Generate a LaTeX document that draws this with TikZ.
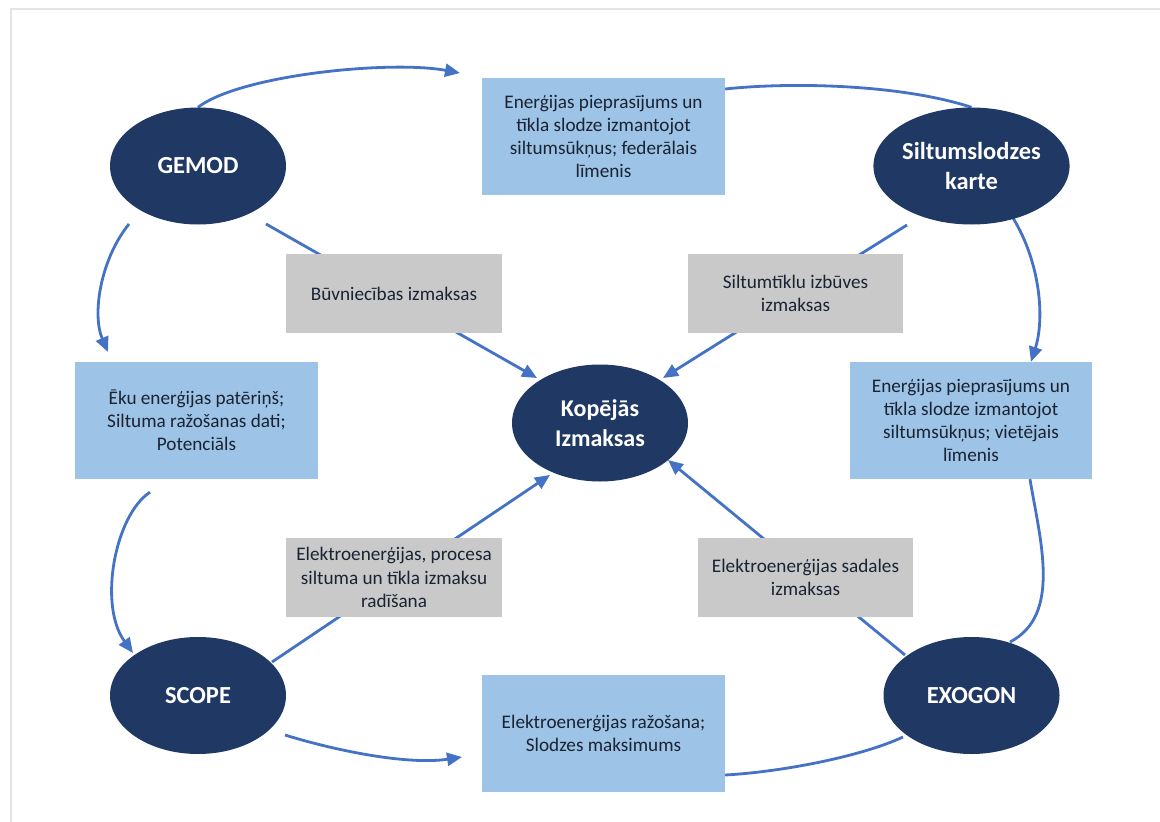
\documentclass[tikz,border=0pt]{standalone}
\usepackage{fontspec}
\setmainfont{Carlito}
\usetikzlibrary{shapes.geometric,arrows.meta,backgrounds,calc}
\definecolor{navy}{HTML}{1F3864}
\definecolor{lblue}{HTML}{9DC3E6}
\definecolor{lgray}{HTML}{C9C9C9}
\definecolor{arr}{HTML}{4472C4}
\definecolor{txt}{HTML}{1A2333}
\definecolor{framecol}{HTML}{E4E4E4}
\begin{document}
\begin{tikzpicture}[x=1pt,y=-1pt,
  oval/.style={ellipse,fill=navy,minimum width=176pt,minimum height=117pt,inner sep=0pt,text=white,font=\fontsize{24.5}{30}\selectfont\bfseries,align=center},
  infobox/.style={rectangle,fill=lblue,minimum width=243pt,minimum height=117pt,inner sep=0pt,text=txt,font=\fontsize{19.2}{23.2}\selectfont,align=center},
  costbox/.style={rectangle,fill=lgray,minimum width=216pt,minimum height=79pt,inner sep=0pt,text=txt,font=\fontsize{19.2}{23.2}\selectfont,align=center},
  conn/.style={draw=arr,line width=2.8pt},
  arrowed/.style={conn,-{Triangle[length=15pt,width=13pt]}}
]
\useasboundingbox (0,0) rectangle (1160,822);

% ellipses
\node[oval] (gemod) at (198,166) {GEMOD};
\node[oval] (siltum) at (971.5,166) {Siltumslodzes\\karte};
\node[oval] (scope) at (198,695.5) {SCOPE};
\node[oval] (exogon) at (971.5,695.5) {EXOGON};
\node[oval,font=\fontsize{24}{30}\selectfont\bfseries] (kop) at (600,423) {Kopējās\\Izmaksas};

% info boxes
\node[infobox] (top) at (603.5,136.5) {Enerģijas pieprasījums un\\tīkla slodze izmantojot\\siltumsūkņus; federālais\\līmenis};
\node[infobox] (left) at (196.5,420.5) {Ēku enerģijas patēriņš;\\Siltuma ražošanas dati;\\Potenciāls};
\node[infobox,minimum width=242pt] (right) at (971,420.5) {Enerģijas pieprasījums un\\tīkla slodze izmantojot\\siltumsūkņus; vietējais\\līmenis};
\node[infobox] (bottom) at (603.5,733) {Elektroenerģijas ražošana;\\Slodzes maksimums};

% cost boxes
\node[costbox] (c1) at (394,293.5) {Būvniecības izmaksas};
\node[costbox,minimum width=215pt] (c2) at (795.5,293.5) {Siltumtīklu izbūves\\izmaksas};
\node[costbox] (c3) at (394,577.5) {Elektroenerģijas, procesa\\siltuma un tīkla izmaksu\\radīšana};
\node[costbox,minimum width=215pt] (c4) at (805.5,577.5) {Elektroenerģijas sadales\\izmaksas};

% free ends
\coordinate (a1end) at (460,73);
\coordinate (a6end) at (462,757);
\coordinate (a8end) at (108,352);

\begin{pgfonlayer}{background}
\fill[white] (0,0) rectangle (1160,822);
\draw[framecol,line width=1.2pt] (11,822) -- (11,9) -- (1160,9);
% straight connectors into the centre
\draw[arrowed] ([shift={(68,58)}]gemod.center) -- ([shift={(-63,-45)}]kop.center);
\draw[arrowed] ([shift={(-64.5,59)}]siltum.center) -- ([shift={(63,-45)}]kop.center);
\draw[arrowed] ([shift={(74,-33.5)}]scope.center) -- ([shift={(-50,52)}]kop.center);
\draw[arrowed] ([shift={(-66.5,-40.5)}]exogon.center) -- ([shift={(68,37)}]kop.center);

% outer cycle
\draw[arrowed] (gemod.north) .. controls (240,75) and (390,60) .. (a1end);
\draw[conn] ([shift={(0,-47.5)}]top.east) .. controls (790,82) and (900,84) .. (siltum.north);
\draw[arrowed] ([shift={(41.5,52)}]siltum.center) .. controls (1040,262) and (1045,318) .. ([shift={(60,0)}]right.north);
\draw[conn] ([shift={(59,0)}]right.south) .. controls (1040,540) and (1062,615) .. ([shift={(38.5,-53.5)}]exogon.center);
\draw[conn] ([shift={(-68.5,41.5)}]exogon.center) .. controls (860,757) and (780,772) .. ([shift={(0,42)}]bottom.east);
\draw[arrowed] ([shift={(87,39.5)}]scope.center) .. controls (340,752) and (410,765) .. (a6end);
\draw[arrowed] ([shift={(-46.5,13)}]left.south) .. controls (115,515) and (98,605) .. ([shift={(-65,-42.5)}]scope.center);
\draw[arrowed] ([shift={(-69,58)}]gemod.center) .. controls (100,260) and (92,315) .. (a8end);
\end{pgfonlayer}
\end{tikzpicture}
\end{document}
